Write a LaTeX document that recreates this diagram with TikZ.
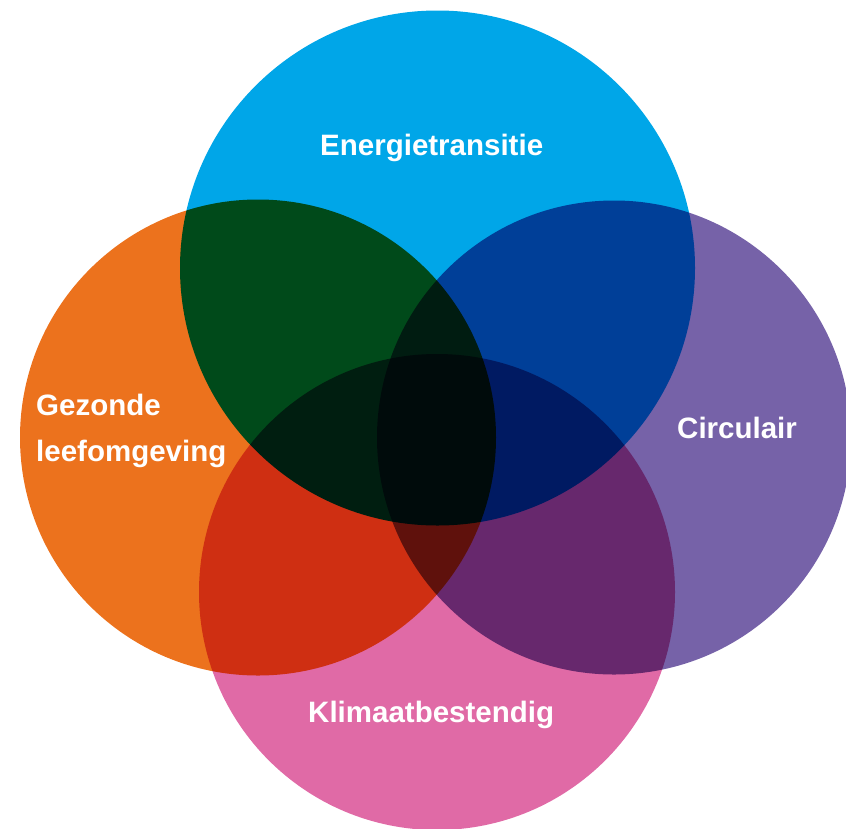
\documentclass[tikz,border=0pt]{standalone}
\usepackage{fontspec}
\setsansfont{Liberation Sans}
\definecolor{myblue}{RGB}{0,166,232}
\definecolor{myorange}{RGB}{236,114,29}
\definecolor{mypurple}{RGB}{118,98,168}
\definecolor{mypink}{RGB}{224,106,166}
\tikzset{
    label text/.style={anchor=base west, inner sep=0pt, text=white,
        font=\sffamily\bfseries\fontsize{29.5}{46}\selectfont, align=left}
}

\begin{document}
\begin{tikzpicture}[x=1pt, y=-1pt]
    \useasboundingbox (0, 0) rectangle (846, 828);
    \begin{scope}[blend group=multiply]
        \fill[myblue] (437.5, 268) circle (257.5);
        \fill[myorange] (258, 437.5) circle (238);
        \fill[mypurple] (614, 437.5) circle (237);
        \fill[mypink] (437, 592) circle (238);
    \end{scope}
    % Labels
    \node[label text] (energie) at (320, 155) {Energietransitie};
    \node[label text] (gezond) at (36, 461) {Gezonde\\leefomgeving};
    \node[label text] (circulair) at (677, 438) {Circulair};
    \node[label text] (klimaat) at (308, 722) {Klimaatbestendig};
\end{tikzpicture}
\end{document}
